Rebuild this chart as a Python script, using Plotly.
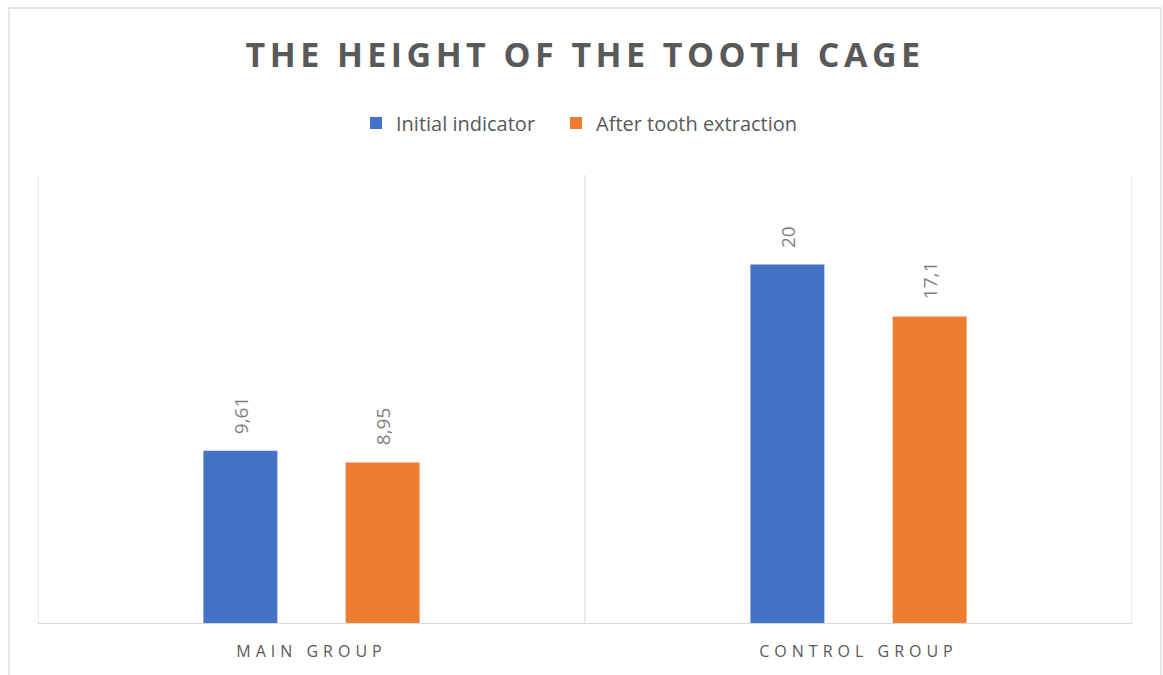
import plotly.graph_objects as go

categories = ["MAIN GROUP", "CONTROL GROUP"]
initial_indicator = [9.61, 20]
after_extraction = [8.95, 17.1]
initial_labels = ["9,61", "20"]
after_labels = ["8,95", "17,1"]
series_names = ["Initial indicator", "After tooth extraction"]
title_text = "THE HEIGHT OF THE TOOTH CAGE"

W, H = 1163, 675
ML, MR, MT, MB = 38, 31, 175, 52
BARGAP = 0.48
BARGROUPGAP = 0.48
FONT = "Open Sans"

plot_w = W - ML - MR
ph = H - MT - MB
slot = plot_w / len(categories) * (1 - BARGAP) / 2
offset = slot / 2

fig = go.Figure()
fig.add_trace(go.Bar(name=series_names[0], x=categories, y=initial_indicator, legend="legend",
                     marker=dict(color="#4472C4", line=dict(width=0))))
fig.add_trace(go.Bar(name=series_names[1], x=categories, y=after_extraction, legend="legend2",
                     marker=dict(color="#ED7D31", line=dict(width=0))))

lab_font = dict(family=FONT, size=19, color="#7f7f7f")
annotations = []
for cat, v, lab in zip(categories, initial_indicator, initial_labels):
    annotations.append(dict(x=cat, y=v, xref="x", yref="y", text=lab, showarrow=False,
                            textangle=-90, xshift=-offset, yshift=15, yanchor="bottom", font=lab_font))
for cat, v, lab in zip(categories, after_extraction, after_labels):
    annotations.append(dict(x=cat, y=v, xref="x", yref="y", text=lab, showarrow=False,
                            textangle=-90, xshift=offset, yshift=15, yanchor="bottom", font=lab_font))

shapes = []
for xv in [-0.5, 0.5, 1.5]:
    shapes.append(dict(type="line", xref="x", yref="paper", x0=xv, x1=xv, y0=0, y1=1,
                       line=dict(color="#d9d9d9", width=1)))
bx0 = (9 - ML) / plot_w
bx1 = (1161 - ML) / plot_w
by1 = (H - MB - 8) / ph
shapes.append(dict(type="rect", xref="paper", yref="paper", x0=bx0, x1=bx1, y0=-0.3, y1=by1,
                   line=dict(color="#d9d9d9", width=1.3), fillcolor="rgba(0,0,0,0)", layer="below"))

leg_font = dict(family=FONT, size=20, color="#595959")
leg_y = (H - MB - 123) / ph
fig.update_layout(
    width=W, height=H,
    margin=dict(l=ML, r=MR, t=MT, b=MB),
    paper_bgcolor="white", plot_bgcolor="white",
    barmode="group", bargap=BARGAP, bargroupgap=BARGROUPGAP,
    title=dict(text=title_text, x=0.5, xref="paper", xanchor="center",
               y=1 - 55 / H, yref="container", yanchor="middle",
               font=dict(family=FONT, size=34, color="#595959", weight="bold")),
    legend=dict(orientation="h", x=(356 - ML) / plot_w, xanchor="left", y=leg_y, yanchor="middle",
                font=leg_font, bgcolor="rgba(0,0,0,0)"),
    legend2=dict(orientation="h", x=(556 - ML) / plot_w, xanchor="left", y=leg_y, yanchor="middle",
                 font=leg_font, bgcolor="rgba(0,0,0,0)"),
    xaxis=dict(showline=True, linecolor="#d9d9d9", linewidth=1, ticks="", showgrid=False,
               range=[-0.5, 1.5], ticklabelstandoff=14,
               tickfont=dict(family=FONT, size=16, color="#595959")),
    yaxis=dict(range=[0, 25], showgrid=False, showticklabels=False, zeroline=False, showline=False),
    annotations=annotations, shapes=shapes, showlegend=True,
)

post = """
var s=document.createElement('style');
s.innerHTML='.gtitle{letter-spacing:4.45px;} .xtick text{letter-spacing:5px;}';
document.head.appendChild(s);
"""
fig.write_html("out.html", post_script=post)
